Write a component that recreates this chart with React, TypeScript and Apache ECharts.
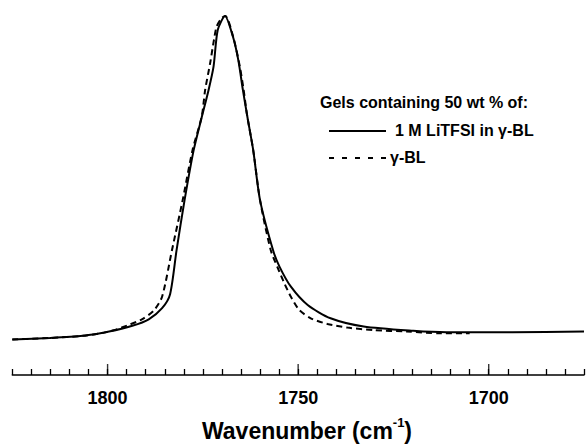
import React, { useEffect, useRef } from "react";
import * as echarts from "echarts";

// Wavenumber (cm-1) and relative absorbance
const wnLiTFSI = [1825, 1815.2, 1806.5, 1799.6, 1793.5, 1789.2, 1785.7, 1783.6, 1781.9, 1779.8, 1777.4, 1775.3, 1773.5, 1772.2, 1771.1, 1769.2, 1767.1, 1765.7, 1764.5, 1763.3, 1761.8, 1760.0, 1756.6, 1754.9, 1751.9, 1747.5, 1741.5, 1732.8, 1719.8, 1711.1, 1693.8, 1675];
const absLiTFSI = [0.099, 0.103, 0.109, 0.121, 0.137, 0.155, 0.186, 0.225, 0.348, 0.487, 0.627, 0.718, 0.794, 0.859, 0.961, 1.0, 0.942, 0.877, 0.794, 0.718, 0.627, 0.487, 0.348, 0.302, 0.246, 0.195, 0.158, 0.135, 0.123, 0.119, 0.119, 0.121];

const wnGBL = [1825, 1815.2, 1806.5, 1800.9, 1797.7, 1794.1, 1791.0, 1787.9, 1785.7, 1783.1, 1780.3, 1777.7, 1775.3, 1774.4, 1773.1, 1772.1, 1771.4, 1770.1, 1769.1, 1767.0, 1765.3, 1764.3, 1763.4, 1761.8, 1760.0, 1757.2, 1755.3, 1753.6, 1751.9, 1749.7, 1746.7, 1742.3, 1737.1, 1730.2, 1721.5, 1712.9, 1705];
const absGBL = [0.099, 0.103, 0.109, 0.118, 0.127, 0.141, 0.155, 0.179, 0.218, 0.348, 0.487, 0.627, 0.72, 0.794, 0.868, 0.933, 0.97, 0.994, 1.0, 0.94, 0.859, 0.794, 0.724, 0.627, 0.487, 0.348, 0.297, 0.255, 0.218, 0.181, 0.158, 0.142, 0.132, 0.125, 0.121, 0.116, 0.116];

const majorTicks = [1700, 1750, 1800];
const legendTitle = "Gels containing 50 wt % of:";
const seriesNames = ["1 M LiTFSI in γ-BL", "γ-BL"];
const axisTitle = "Wavenumber";

const FONT = "'Liberation Sans', Arial, Helvetica, sans-serif";

export default function App() {
  const ref = useRef<HTMLDivElement>(null);
  useEffect(() => {
    if (!ref.current) return;
    const chart = echarts.init(ref.current, undefined, { renderer: "svg" });
    const s1 = wnLiTFSI.map((w, i) => [w, absLiTFSI[i]]);
    const s2 = wnGBL.map((w, i) => [w, absGBL[i]]);
    chart.setOption({
      animation: false,
      backgroundColor: "#ffffff",
      grid: { left: 12.3, top: 16, width: 576.6, height: 359 },
      xAxis: {
        type: "value",
        min: 1675,
        max: 1825,
        interval: 5,
        inverse: true,
        splitLine: { show: false },
        axisLine: { show: true, lineStyle: { color: "#000", width: 1.5 } },
        axisTick: { show: true, inside: true, length: 6, lineStyle: { color: "#000", width: 1.3 } },
        axisLabel: {
          show: true,
          margin: 14,
          color: "#000",
          fontSize: 18,
          fontWeight: "bold",
          fontFamily: FONT,
          formatter: (v: number) => (majorTicks.includes(v) ? String(v) : ""),
        },
      },
      yAxis: { type: "value", min: 0, max: 1, show: false },
      series: [
        {
          name: seriesNames[0],
          type: "line",
          data: s1,
          showSymbol: false,
          smooth: 0.25,
          lineStyle: { color: "#000", width: 2 },
          z: 3,
        },
        {
          name: seriesNames[1],
          type: "line",
          data: s2,
          showSymbol: false,
          smooth: 0.25,
          lineStyle: { color: "#000", width: 2, type: [6, 4] },
          z: 2,
        },
        {
          name: "major ticks",
          type: "scatter",
          data: majorTicks.map((v) => [v, 0]),
          symbol: "rect",
          symbolSize: [1.4, 11],
          symbolOffset: [0, -5.5],
          itemStyle: { color: "#000" },
          clip: false,
          silent: true,
          z: 4,
        },
      ],
      graphic: [
        {
          type: "text",
          left: 320,
          top: 94,
          style: { text: legendTitle, fill: "#000", font: `bold 16px ${FONT}` },
        },
        {
          type: "line",
          shape: { x1: 329, y1: 131, x2: 386, y2: 131 },
          style: { stroke: "#000", lineWidth: 2 },
        },
        {
          type: "text",
          left: 395,
          top: 122,
          style: { text: seriesNames[0], fill: "#000", font: `bold 16px ${FONT}` },
        },
        {
          type: "line",
          shape: { x1: 329, y1: 158, x2: 386, y2: 158 },
          style: { stroke: "#000", lineWidth: 2, lineDash: [5, 8] },
        },
        {
          type: "text",
          left: 390,
          top: 149,
          style: { text: seriesNames[1], fill: "#000", font: `bold 16px ${FONT}` },
        },
        {
          type: "text",
          x: 307,
          y: 429,
          style: {
            text: `{a|${axisTitle} (cm}{s|-1}{a|)}`,
            align: "center",
            verticalAlign: "middle",
            fill: "#000",
            rich: {
              a: { fontSize: 23, fontWeight: "bold", fontFamily: FONT, lineHeight: 27, verticalAlign: "bottom" },
              s: { fontSize: 13, fontWeight: "bold", fontFamily: FONT, lineHeight: 27, verticalAlign: "top", padding: [0, 0, 12, 0] },
            },
          },
        },
      ],
    });
    return () => chart.dispose();
  }, []);
  return (
    <div
      ref={ref}
      style={{ position: "absolute", left: 0, top: 0, width: 587, height: 446, background: "#fff" }}
    />
  );
}
